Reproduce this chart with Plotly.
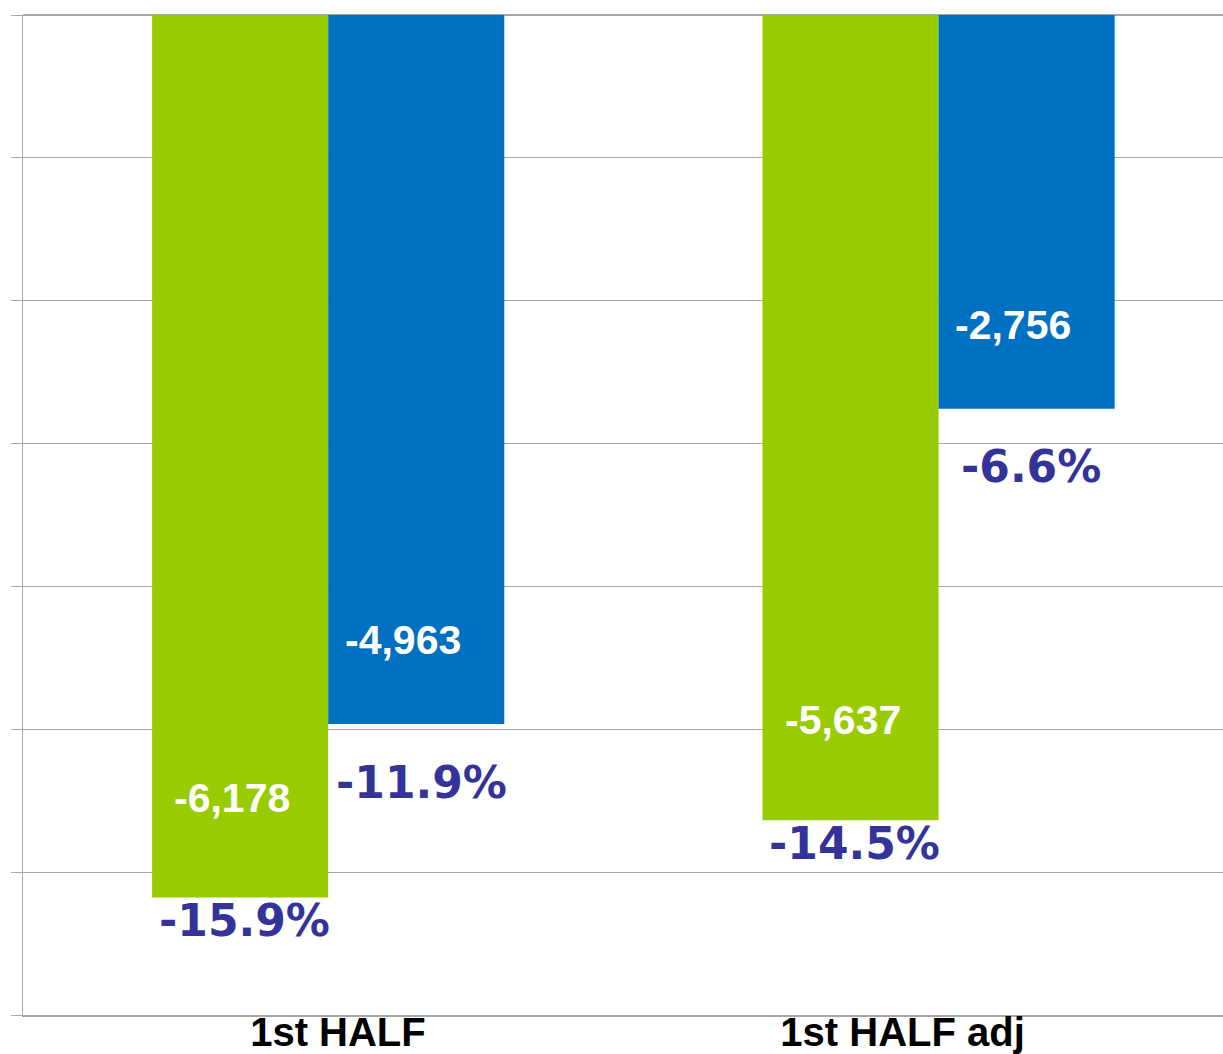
import plotly.graph_objects as go

categories = ["1st HALF", "1st HALF adj"]
series_names = ["Series A", "Series B"]
green_values = [-6178, -5637]
blue_values = [-4963, -2756]
green_pct = ["-15.9%", "-14.5%"]
blue_pct = ["-11.9%", "-6.6%"]
y_ticks = [0, -1000, -2000, -3000, -4000, -5000, -6000, -7000]

GREEN = "#99cc00"
BLUE = "#0070c0"
PCT_COLOR = "#333399"
GRID = "#a6a6a6"

xpos = list(range(len(categories)))

fig = go.Figure()
fig.add_trace(go.Bar(x=xpos, y=green_values, name=series_names[0],
                     marker=dict(color=GREEN, line=dict(width=0))))
fig.add_trace(go.Bar(x=xpos, y=blue_values, name=series_names[1],
                     marker=dict(color=BLUE, line=dict(width=0))))

half_w = 0.144  # half of one bar width in x units (for label placement)
annotations = []
for series, vals, pcts, dx, vshift, pshift, vdx, pdx in [
    ("g", green_values, green_pct, -half_w, 100, -23, -8, 4),
    ("b", blue_values, blue_pct, half_w, 84, -58, -13, 5),
]:
    for i, (v, p) in enumerate(zip(vals, pcts)):
        annotations.append(dict(
            x=xpos[i] + dx, y=v, xref="x", yref="y",
            text=f"{v:,}", showarrow=False,
            xanchor="center", yanchor="middle",
            xshift=vdx, yshift=vshift,
            font=dict(family="Liberation Sans, Arial, sans-serif", size=41, color="white", weight="bold"),
        ))
        annotations.append(dict(
            x=xpos[i] + dx, y=v, xref="x", yref="y",
            text=p, showarrow=False,
            xanchor="center", yanchor="middle",
            xshift=pdx, yshift=pshift,
            font=dict(family="DejaVu Sans, Verdana, sans-serif", size=44, color=PCT_COLOR, weight="bold"),
        ))

fig.update_layout(
    width=1223, height=1054,
    margin=dict(l=23, r=0, t=15, b=39, autoexpand=False),
    paper_bgcolor="white", plot_bgcolor="white",
    barmode="group", bargap=0.423, bargroupgap=0,
    showlegend=False,
    annotations=annotations,
    xaxis=dict(
        range=[-0.5, 1.466],
        tickmode="array", tickvals=[0.016, 0.941], ticktext=categories,
        showgrid=False, zeroline=False,
        showline=True, linecolor=GRID, linewidth=2,
        ticks="", ticklen=0, automargin=False,
        ticklabelstandoff=-19,
        tickfont=dict(family="Liberation Sans, Arial, sans-serif", size=40, color="black", weight="bold"),
    ),
    yaxis=dict(
        range=[-7000, 0],
        tickmode="array", tickvals=y_ticks,
        showticklabels=False, automargin=False,
        showgrid=True, gridcolor=GRID, gridwidth=1,
        zeroline=True, zerolinecolor=GRID, zerolinewidth=2,
        showline=True, linecolor=GRID, linewidth=1,
        ticks="outside", ticklen=11, tickcolor=GRID, tickwidth=1,
    ),
)

fig.write_html(
    "out.html",
    config={"displayModeBar": False},
    post_script="document.body.style.margin='0';document.body.style.overflow='hidden';",
)
